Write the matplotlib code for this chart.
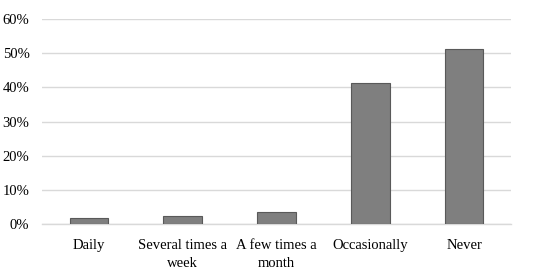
import matplotlib
matplotlib.use("Agg")
import matplotlib.pyplot as plt
from matplotlib.ticker import FuncFormatter

categories = ["Daily", "Several times a\nweek", "A few times a\nmonth", "Occasionally", "Never"]
values = [1.8, 2.4, 3.5, 41.2, 51.1]
yticks = [0, 10, 20, 30, 40, 50, 60]

plt.rcParams['font.family'] = ['Liberation Serif', 'DejaVu Serif']

fig = plt.figure(figsize=(5.5, 2.75), dpi=100)
ax = fig.add_axes([42/550, 1 - 224.3/275, (511-42)/550, (224.3-19)/275])

x = list(range(len(categories)))
ax.bar(x, values, width=0.41, color="#7f7f7f", edgecolor="#595959", linewidth=0.8, zorder=3)
ax.set_xlim(-0.5, len(categories) - 0.5)
ax.set_ylim(0, 60)
ax.set_yticks(yticks)
ax.yaxis.set_major_formatter(FuncFormatter(lambda v, p: f"{int(v)}%"))
ax.set_xticks(x)
ax.set_xticklabels(categories, fontsize=10.5, linespacing=1.55)
ax.tick_params(axis="y", labelsize=10.5, length=0, pad=9)
ax.tick_params(axis="x", length=0, pad=10.5)
ax.grid(axis="y", color="#d9d9d9", linewidth=1, zorder=0)
for s in ["top", "right", "left"]:
    ax.spines[s].set_visible(False)
ax.spines["bottom"].set_color("#d9d9d9")
ax.spines["bottom"].set_linewidth(1)
fig.savefig("out.png", dpi=100)
